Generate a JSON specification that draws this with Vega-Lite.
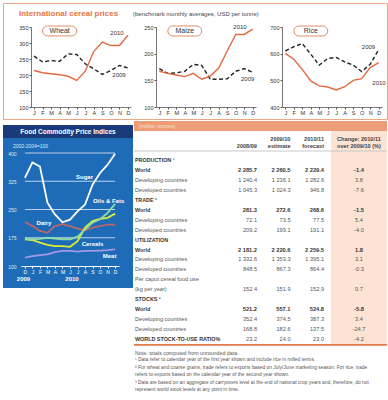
{
"$schema": "https://vega.github.io/schema/vega-lite/v6.json",
"padding": {"left": 2, "top": 2, "right": 0, "bottom": 0},
"background": "white",
"spacing": 0,
"config": {"font": "Liberation Sans", "view": {"stroke": null}, "axis": {"labelOverlap": false, "labelFlush": false, "labelBound": false}, "axisX": {"labelAngle": 0}},
"datasets": {
"cereal": [
{"crop":"Wheat","month":"Jan","y2009":259,"y2010":214},
{"crop":"Wheat","month":"Feb","y2009":241,"y2010":207},
{"crop":"Wheat","month":"Mar","y2009":245,"y2010":204},
{"crop":"Wheat","month":"Apr","y2009":243,"y2010":201},
{"crop":"Wheat","month":"May","y2009":266,"y2010":196},
{"crop":"Wheat","month":"Jun","y2009":264,"y2010":183},
{"crop":"Wheat","month":"Jul","y2009":235,"y2010":212},
{"crop":"Wheat","month":"Aug","y2009":219,"y2010":274},
{"crop":"Wheat","month":"Sep","y2009":202,"y2010":303},
{"crop":"Wheat","month":"Oct","y2009":214,"y2010":292},
{"crop":"Wheat","month":"Nov","y2009":230,"y2010":292},
{"crop":"Wheat","month":"Dec","y2009":222,"y2010":324},
{"crop":"Maize","month":"Jan","y2009":172,"y2010":167},
{"crop":"Maize","month":"Feb","y2009":163,"y2010":163},
{"crop":"Maize","month":"Mar","y2009":164,"y2010":160},
{"crop":"Maize","month":"Apr","y2009":167,"y2010":157},
{"crop":"Maize","month":"May","y2009":180,"y2010":163},
{"crop":"Maize","month":"Jun","y2009":178,"y2010":152},
{"crop":"Maize","month":"Jul","y2009":152,"y2010":158},
{"crop":"Maize","month":"Aug","y2009":152,"y2010":173},
{"crop":"Maize","month":"Sep","y2009":153,"y2010":205},
{"crop":"Maize","month":"Oct","y2009":167,"y2010":236},
{"crop":"Maize","month":"Nov","y2009":172,"y2010":236},
{"crop":"Maize","month":"Dec","y2009":165,"y2010":246},
{"crop":"Rice","month":"Jan","y2009":610,"y2010":601},
{"crop":"Rice","month":"Feb","y2009":626,"y2010":579},
{"crop":"Rice","month":"Mar","y2009":638,"y2010":541},
{"crop":"Rice","month":"Apr","y2009":598,"y2010":498},
{"crop":"Rice","month":"May","y2009":557,"y2010":479},
{"crop":"Rice","month":"Jun","y2009":582,"y2010":475},
{"crop":"Rice","month":"Jul","y2009":586,"y2010":464},
{"crop":"Rice","month":"Aug","y2009":569,"y2010":476},
{"crop":"Rice","month":"Sep","y2009":557,"y2010":500},
{"crop":"Rice","month":"Oct","y2009":533,"y2010":506},
{"crop":"Rice","month":"Nov","y2009":560,"y2010":548},
{"crop":"Rice","month":"Dec","y2009":615,"y2010":566}
],
"food": [
{"month":"Dec09","sugar":334,"dairy":217,"oils":172,"cereals":171,"meat":122},
{"month":"Jan","sugar":375,"dairy":206,"oils":171,"cereals":169,"meat":126},
{"month":"Feb","sugar":364,"dairy":193,"oils":172,"cereals":162,"meat":129},
{"month":"Mar","sugar":268,"dairy":188,"oils":175,"cereals":156,"meat":131},
{"month":"Apr","sugar":237,"dairy":206,"oils":173,"cereals":153,"meat":137},
{"month":"May","sugar":216,"dairy":211,"oils":171,"cereals":153,"meat":140},
{"month":"Jun","sugar":223,"dairy":206,"oils":171,"cereals":151,"meat":140},
{"month":"Jul","sugar":245,"dairy":199,"oils":178,"cereals":166,"meat":138},
{"month":"Aug","sugar":263,"dairy":195,"oils":197,"cereals":202,"meat":140},
{"month":"Sep","sugar":316,"dairy":202,"oils":215,"cereals":219,"meat":140},
{"month":"Oct","sugar":347,"dairy":206,"oils":224,"cereals":225,"meat":141},
{"month":"Nov","sugar":369,"dairy":210,"oils":241,"cereals":228,"meat":142},
{"month":"Dec","sugar":398,"dairy":210,"oils":265,"cereals":239,"meat":144}
],
"table": [
{"key":"P","label":"PRODUCTION ¹","kind":"section"},
{"key":"PW","label":"World","kind":"world","c1":"2 285.7","c2":"2 260.5","c3":"2 229.4","chg":"-1.4"},
{"key":"PDg","label":"Developing countries","kind":"country","c1":"1 240.4","c2":"1 236.1","c3":"1 282.6","chg":"3.8"},
{"key":"PDd","label":"Developed countries","kind":"country","c1":"1 045.3","c2":"1 024.3","c3":"946.8","chg":"-7.6"},
{"key":"T","label":"TRADE ²","kind":"section"},
{"key":"TW","label":"World","kind":"world","c1":"281.3","c2":"272.6","c3":"268.6","chg":"-1.5"},
{"key":"TDg","label":"Developing countries","kind":"country","c1":"72.1","c2":"73.5","c3":"77.5","chg":"5.4"},
{"key":"TDd","label":"Developed countries","kind":"country","c1":"209.2","c2":"199.1","c3":"191.1","chg":"-4.0"},
{"key":"U","label":"UTILIZATION","kind":"section"},
{"key":"UW","label":"World","kind":"world","c1":"2 181.2","c2":"2 220.6","c3":"2 259.5","chg":"1.8"},
{"key":"UDg","label":"Developing countries","kind":"country","c1":"1 332.6","c2":"1 353.3","c3":"1 395.1","chg":"3.1"},
{"key":"UDd","label":"Developed countries","kind":"country","c1":"848.5","c2":"867.3","c3":"864.4","chg":"-0.3"},
{"key":"PC1","label":"Per caput cereal food use","kind":"country"},
{"key":"PC2","label":"(kg per year)","kind":"country","c1":"152.4","c2":"151.9","c3":"152.9","chg":"0.7"},
{"key":"S","label":"STOCKS ³","kind":"section"},
{"key":"SW","label":"World","kind":"world","c1":"521.2","c2":"557.1","c3":"524.8","chg":"-5.8"},
{"key":"SDg","label":"Developing countries","kind":"country","c1":"352.4","c2":"374.5","c3":"387.3","chg":"3.4"},
{"key":"SDd","label":"Developed countries","kind":"country","c1":"168.8","c2":"182.6","c3":"137.5","chg":"-24.7"},
{"key":"R","label":"WORLD STOCK-TO-USE RATIO%","kind":"ratio","c1":"23.2","c2":"24.0","c3":"23.0","chg":"-4.2"}
],
"header": [
{"col":"c1","line":"h2","text":"2008/09"},
{"col":"c2","line":"h1","text":"2009/10"},
{"col":"c2","line":"h2","text":"estimate"},
{"col":"c3","line":"h1","text":"2010/11"},
{"col":"c3","line":"h2","text":"forecast"},
{"col":"chg","line":"h1","text":"Change: 2010/11"},
{"col":"chg","line":"h2","text":"over 2009/10 (%)"}
],
"notes": [
{"line":"n0","text":"Note: totals computed from unrounded data."},
{"line":"n1","text":"¹ Data refer to calendar year of the first year shown and include rice in milled terms."},
{"line":"n2a","text":"² For wheat and coarse grains, trade refers to exports based on July/June marketing season. For rice, trade"},
{"line":"n2b","text":"refers to exports based on the calendar year of the second year shown."},
{"line":"n3a","text":"³ Data are based on an aggregate of carryovers level at the end of national crop years and, therefore, do not"},
{"line":"n3b","text":"represent world stock levels at any point in time."}
]
},
"vconcat": [
{
"width": 384, "height": 116,
"view": {"stroke": "#eca689", "strokeWidth": 1, "fill": "white"},
"resolve": {"scale": {"x": "independent", "y": "independent"}, "axis": {"x": "independent", "y": "independent"}},
"layer": [
{"layer": [
{"data": {"name": "cereal"}, "transform": [{"filter": "datum.crop === 'Wheat'"}],
 "mark": {"type": "line", "color": "#222222", "strokeWidth": 1.4, "strokeDash": [4, 2.5]},
 "encoding": {
  "x": {"field": "month", "type": "ordinal", "scale": {"type": "point", "domain": ["Jan","Feb","Mar","Apr","May","Jun","Jul","Aug","Sep","Oct","Nov","Dec"], "range": [28, 128], "padding": 0.35},
        "axis": {"orient": "bottom", "offset": -12, "title": null, "labelAngle": 0, "labelExpr": "substring(datum.label,0,1)", "domainColor": "#555555", "domainWidth": 0.8, "tickColor": "#555555", "tickSize": 2, "labelFontSize": 5.6, "labelColor": "#333333", "labelPadding": 1, "labelOverlap": false, "grid": false}},
  "y": {"field": "y2009", "type": "quantitative", "scale": {"domain": [100, 350], "range": [104, 24], "nice": false, "zero": false},
        "axis": {"orient": "left", "offset": -28, "values": [100,150,200,250,300,350], "tickCount": 6, "title": null, "domainColor": "#555555", "domainWidth": 0.8, "tickColor": "#555555", "tickSize": 2, "labelFontSize": 5.5, "labelColor": "#333333", "labelPadding": 1, "labelOverlap": false, "grid": false}}}},
{"data": {"name": "cereal"}, "transform": [{"filter": "datum.crop === 'Wheat'"}],
 "mark": {"type": "line", "color": "#e2693f", "strokeWidth": 1.4},
 "encoding": {
  "x": {"field": "month", "type": "ordinal", "scale": {"type": "point", "domain": ["Jan","Feb","Mar","Apr","May","Jun","Jul","Aug","Sep","Oct","Nov","Dec"], "range": [28, 128], "padding": 0.35},
        "axis": {"orient": "bottom", "offset": -12, "title": null, "labelAngle": 0, "labelExpr": "substring(datum.label,0,1)", "domainColor": "#555555", "domainWidth": 0.8, "tickColor": "#555555", "tickSize": 2, "labelFontSize": 5.6, "labelColor": "#333333", "labelPadding": 1, "labelOverlap": false, "grid": false}},
  "y": {"field": "y2010", "type": "quantitative", "scale": {"domain": [100, 350], "range": [104, 24], "nice": false, "zero": false},
        "axis": {"orient": "left", "offset": -28, "values": [100,150,200,250,300,350], "tickCount": 6, "title": null, "domainColor": "#555555", "domainWidth": 0.8, "tickColor": "#555555", "tickSize": 2, "labelFontSize": 5.5, "labelColor": "#333333", "labelPadding": 1, "labelOverlap": false, "grid": false}}}},
{"data": {"values": [{}]},
 "mark": {"type": "rect", "fill": "white", "stroke": "#dc8e6c", "strokeWidth": 1, "cornerRadius": 5},
 "encoding": {
  "x": {"datum": "Feb", "type": "ordinal", "scale": {"type": "point", "domain": ["Jan","Feb","Mar","Apr","May","Jun","Jul","Aug","Sep","Oct","Nov","Dec"], "range": [28, 128], "padding": 0.35},
        "axis": {"orient": "bottom", "offset": -12, "title": null, "labelAngle": 0, "labelExpr": "substring(datum.label,0,1)", "domainColor": "#555555", "domainWidth": 0.8, "tickColor": "#555555", "tickSize": 2, "labelFontSize": 5.6, "labelColor": "#333333", "labelPadding": 1, "labelOverlap": false, "grid": false}},
  "x2": {"datum": "Jun"},
  "y": {"datum": 353, "type": "quantitative", "scale": {"domain": [100, 350], "range": [104, 24], "nice": false, "zero": false},
        "axis": {"orient": "left", "offset": -28, "values": [100,150,200,250,300,350], "tickCount": 6, "title": null, "domainColor": "#555555", "domainWidth": 0.8, "tickColor": "#555555", "tickSize": 2, "labelFontSize": 5.5, "labelColor": "#333333", "labelPadding": 1, "labelOverlap": false, "grid": false}},
  "y2": {"datum": 322}}},
{"data": {"values": [{}]},
 "mark": {"type": "text", "text": "Wheat", "fontSize": 7, "color": "#333333"},
 "encoding": {
  "x": {"datum": "Apr", "type": "ordinal", "scale": {"type": "point", "domain": ["Jan","Feb","Mar","Apr","May","Jun","Jul","Aug","Sep","Oct","Nov","Dec"], "range": [28, 128], "padding": 0.35},
        "axis": {"orient": "bottom", "offset": -12, "title": null, "labelAngle": 0, "labelExpr": "substring(datum.label,0,1)", "domainColor": "#555555", "domainWidth": 0.8, "tickColor": "#555555", "tickSize": 2, "labelFontSize": 5.6, "labelColor": "#333333", "labelPadding": 1, "labelOverlap": false, "grid": false}},
  "y": {"datum": 337.5, "type": "quantitative", "scale": {"domain": [100, 350], "range": [104, 24], "nice": false, "zero": false},
        "axis": {"orient": "left", "offset": -28, "values": [100,150,200,250,300,350], "tickCount": 6, "title": null, "domainColor": "#555555", "domainWidth": 0.8, "tickColor": "#555555", "tickSize": 2, "labelFontSize": 5.5, "labelColor": "#333333", "labelPadding": 1, "labelOverlap": false, "grid": false}}}},
{"data": {"values": [{}]},
 "mark": {"type": "text", "text": "2010", "fontSize": 6, "color": "#333333", "dx": -2.5},
 "encoding": {
  "x": {"datum": "Nov", "type": "ordinal", "scale": {"type": "point", "domain": ["Jan","Feb","Mar","Apr","May","Jun","Jul","Aug","Sep","Oct","Nov","Dec"], "range": [28, 128], "padding": 0.35},
        "axis": {"orient": "bottom", "offset": -12, "title": null, "labelAngle": 0, "labelExpr": "substring(datum.label,0,1)", "domainColor": "#555555", "domainWidth": 0.8, "tickColor": "#555555", "tickSize": 2, "labelFontSize": 5.6, "labelColor": "#333333", "labelPadding": 1, "labelOverlap": false, "grid": false}},
  "y": {"datum": 331, "type": "quantitative", "scale": {"domain": [100, 350], "range": [104, 24], "nice": false, "zero": false},
        "axis": {"orient": "left", "offset": -28, "values": [100,150,200,250,300,350], "tickCount": 6, "title": null, "domainColor": "#555555", "domainWidth": 0.8, "tickColor": "#555555", "tickSize": 2, "labelFontSize": 5.5, "labelColor": "#333333", "labelPadding": 1, "labelOverlap": false, "grid": false}}}},
{"data": {"values": [{}]},
 "mark": {"type": "text", "text": "2009", "fontSize": 6, "color": "#333333", "dx": -0.5},
 "encoding": {
  "x": {"datum": "Nov", "type": "ordinal", "scale": {"type": "point", "domain": ["Jan","Feb","Mar","Apr","May","Jun","Jul","Aug","Sep","Oct","Nov","Dec"], "range": [28, 128], "padding": 0.35},
        "axis": {"orient": "bottom", "offset": -12, "title": null, "labelAngle": 0, "labelExpr": "substring(datum.label,0,1)", "domainColor": "#555555", "domainWidth": 0.8, "tickColor": "#555555", "tickSize": 2, "labelFontSize": 5.6, "labelColor": "#333333", "labelPadding": 1, "labelOverlap": false, "grid": false}},
  "y": {"datum": 200, "type": "quantitative", "scale": {"domain": [100, 350], "range": [104, 24], "nice": false, "zero": false},
        "axis": {"orient": "left", "offset": -28, "values": [100,150,200,250,300,350], "tickCount": 6, "title": null, "domainColor": "#555555", "domainWidth": 0.8, "tickColor": "#555555", "tickSize": 2, "labelFontSize": 5.5, "labelColor": "#333333", "labelPadding": 1, "labelOverlap": false, "grid": false}}}},
{"data": {"values": [{}]},
 "mark": {"type": "text", "text": "International cereal prices", "fontSize": 8, "fontWeight": "bold", "color": "#ea7245", "align": "left", "dx": -15},
 "encoding": {
  "x": {"datum": "Jan", "type": "ordinal", "scale": {"type": "point", "domain": ["Jan","Feb","Mar","Apr","May","Jun","Jul","Aug","Sep","Oct","Nov","Dec"], "range": [28, 128], "padding": 0.35},
        "axis": {"orient": "bottom", "offset": -12, "title": null, "labelAngle": 0, "labelExpr": "substring(datum.label,0,1)", "domainColor": "#555555", "domainWidth": 0.8, "tickColor": "#555555", "tickSize": 2, "labelFontSize": 5.6, "labelColor": "#333333", "labelPadding": 1, "labelOverlap": false, "grid": false}},
  "y": {"datum": 390.6, "type": "quantitative", "scale": {"domain": [100, 350], "range": [104, 24], "nice": false, "zero": false},
        "axis": {"orient": "left", "offset": -28, "values": [100,150,200,250,300,350], "tickCount": 6, "title": null, "domainColor": "#555555", "domainWidth": 0.8, "tickColor": "#555555", "tickSize": 2, "labelFontSize": 5.5, "labelColor": "#333333", "labelPadding": 1, "labelOverlap": false, "grid": false}}}}
]},
{"layer": [
{"data": {"name": "cereal"}, "transform": [{"filter": "datum.crop === 'Maize'"}],
 "mark": {"type": "line", "color": "#222222", "strokeWidth": 1.4, "strokeDash": [4, 2.5]},
 "encoding": {
  "x": {"field": "month", "type": "ordinal", "scale": {"type": "point", "domain": ["Jan","Feb","Mar","Apr","May","Jun","Jul","Aug","Sep","Oct","Nov","Dec"], "range": [153, 253], "padding": 0.39},
        "axis": {"orient": "bottom", "offset": -12, "title": null, "labelAngle": 0, "labelExpr": "substring(datum.label,0,1)", "domainColor": "#555555", "domainWidth": 0.8, "tickColor": "#555555", "tickSize": 2, "labelFontSize": 5.6, "labelColor": "#333333", "labelPadding": 1, "labelOverlap": false, "grid": false}},
  "y": {"field": "y2009", "type": "quantitative", "scale": {"domain": [100, 250], "range": [104, 24], "nice": false, "zero": false},
        "axis": {"orient": "left", "offset": -153, "values": [100,150,200,250], "tickCount": 4, "title": null, "domainColor": "#555555", "domainWidth": 0.8, "tickColor": "#555555", "tickSize": 2, "labelFontSize": 5.5, "labelColor": "#333333", "labelPadding": 1, "labelOverlap": false, "grid": false}}}},
{"data": {"name": "cereal"}, "transform": [{"filter": "datum.crop === 'Maize'"}],
 "mark": {"type": "line", "color": "#e2693f", "strokeWidth": 1.4},
 "encoding": {
  "x": {"field": "month", "type": "ordinal", "scale": {"type": "point", "domain": ["Jan","Feb","Mar","Apr","May","Jun","Jul","Aug","Sep","Oct","Nov","Dec"], "range": [153, 253], "padding": 0.39},
        "axis": {"orient": "bottom", "offset": -12, "title": null, "labelAngle": 0, "labelExpr": "substring(datum.label,0,1)", "domainColor": "#555555", "domainWidth": 0.8, "tickColor": "#555555", "tickSize": 2, "labelFontSize": 5.6, "labelColor": "#333333", "labelPadding": 1, "labelOverlap": false, "grid": false}},
  "y": {"field": "y2010", "type": "quantitative", "scale": {"domain": [100, 250], "range": [104, 24], "nice": false, "zero": false},
        "axis": {"orient": "left", "offset": -153, "values": [100,150,200,250], "tickCount": 4, "title": null, "domainColor": "#555555", "domainWidth": 0.8, "tickColor": "#555555", "tickSize": 2, "labelFontSize": 5.5, "labelColor": "#333333", "labelPadding": 1, "labelOverlap": false, "grid": false}}}},
{"data": {"values": [{}]},
 "mark": {"type": "rect", "fill": "white", "stroke": "#dc8e6c", "strokeWidth": 1, "cornerRadius": 5},
 "encoding": {
  "x": {"datum": "Feb", "type": "ordinal", "scale": {"type": "point", "domain": ["Jan","Feb","Mar","Apr","May","Jun","Jul","Aug","Sep","Oct","Nov","Dec"], "range": [153, 253], "padding": 0.39},
        "axis": {"orient": "bottom", "offset": -12, "title": null, "labelAngle": 0, "labelExpr": "substring(datum.label,0,1)", "domainColor": "#555555", "domainWidth": 0.8, "tickColor": "#555555", "tickSize": 2, "labelFontSize": 5.6, "labelColor": "#333333", "labelPadding": 1, "labelOverlap": false, "grid": false}},
  "x2": {"datum": "Jun"},
  "y": {"datum": 251.9, "type": "quantitative", "scale": {"domain": [100, 250], "range": [104, 24], "nice": false, "zero": false},
        "axis": {"orient": "left", "offset": -153, "values": [100,150,200,250], "tickCount": 4, "title": null, "domainColor": "#555555", "domainWidth": 0.8, "tickColor": "#555555", "tickSize": 2, "labelFontSize": 5.5, "labelColor": "#333333", "labelPadding": 1, "labelOverlap": false, "grid": false}},
  "y2": {"datum": 233.1}}},
{"data": {"values": [{}]},
 "mark": {"type": "text", "text": "Maize", "fontSize": 7, "color": "#333333"},
 "encoding": {
  "x": {"datum": "Apr", "type": "ordinal", "scale": {"type": "point", "domain": ["Jan","Feb","Mar","Apr","May","Jun","Jul","Aug","Sep","Oct","Nov","Dec"], "range": [153, 253], "padding": 0.39},
        "axis": {"orient": "bottom", "offset": -12, "title": null, "labelAngle": 0, "labelExpr": "substring(datum.label,0,1)", "domainColor": "#555555", "domainWidth": 0.8, "tickColor": "#555555", "tickSize": 2, "labelFontSize": 5.6, "labelColor": "#333333", "labelPadding": 1, "labelOverlap": false, "grid": false}},
  "y": {"datum": 242.5, "type": "quantitative", "scale": {"domain": [100, 250], "range": [104, 24], "nice": false, "zero": false},
        "axis": {"orient": "left", "offset": -153, "values": [100,150,200,250], "tickCount": 4, "title": null, "domainColor": "#555555", "domainWidth": 0.8, "tickColor": "#555555", "tickSize": 2, "labelFontSize": 5.5, "labelColor": "#333333", "labelPadding": 1, "labelOverlap": false, "grid": false}}}},
{"data": {"values": [{}]},
 "mark": {"type": "text", "text": "2010", "fontSize": 6, "color": "#333333", "dx": 4.3},
 "encoding": {
  "x": {"datum": "Oct", "type": "ordinal", "scale": {"type": "point", "domain": ["Jan","Feb","Mar","Apr","May","Jun","Jul","Aug","Sep","Oct","Nov","Dec"], "range": [153, 253], "padding": 0.39},
        "axis": {"orient": "bottom", "offset": -12, "title": null, "labelAngle": 0, "labelExpr": "substring(datum.label,0,1)", "domainColor": "#555555", "domainWidth": 0.8, "tickColor": "#555555", "tickSize": 2, "labelFontSize": 5.6, "labelColor": "#333333", "labelPadding": 1, "labelOverlap": false, "grid": false}},
  "y": {"datum": 250, "type": "quantitative", "scale": {"domain": [100, 250], "range": [104, 24], "nice": false, "zero": false},
        "axis": {"orient": "left", "offset": -153, "values": [100,150,200,250], "tickCount": 4, "title": null, "domainColor": "#555555", "domainWidth": 0.8, "tickColor": "#555555", "tickSize": 2, "labelFontSize": 5.5, "labelColor": "#333333", "labelPadding": 1, "labelOverlap": false, "grid": false}}}},
{"data": {"values": [{}]},
 "mark": {"type": "text", "text": "2009", "fontSize": 6, "color": "#333333", "dx": 3.5},
 "encoding": {
  "x": {"datum": "Nov", "type": "ordinal", "scale": {"type": "point", "domain": ["Jan","Feb","Mar","Apr","May","Jun","Jul","Aug","Sep","Oct","Nov","Dec"], "range": [153, 253], "padding": 0.39},
        "axis": {"orient": "bottom", "offset": -12, "title": null, "labelAngle": 0, "labelExpr": "substring(datum.label,0,1)", "domainColor": "#555555", "domainWidth": 0.8, "tickColor": "#555555", "tickSize": 2, "labelFontSize": 5.6, "labelColor": "#333333", "labelPadding": 1, "labelOverlap": false, "grid": false}},
  "y": {"datum": 152.5, "type": "quantitative", "scale": {"domain": [100, 250], "range": [104, 24], "nice": false, "zero": false},
        "axis": {"orient": "left", "offset": -153, "values": [100,150,200,250], "tickCount": 4, "title": null, "domainColor": "#555555", "domainWidth": 0.8, "tickColor": "#555555", "tickSize": 2, "labelFontSize": 5.5, "labelColor": "#333333", "labelPadding": 1, "labelOverlap": false, "grid": false}}}},
{"data": {"values": [{}]},
 "mark": {"type": "text", "text": "(benchmark monthly averages, USD per tonne)", "fontSize": 6, "color": "#444444", "align": "left", "dx": -26.3},
 "encoding": {
  "x": {"datum": "Jan", "type": "ordinal", "scale": {"type": "point", "domain": ["Jan","Feb","Mar","Apr","May","Jun","Jul","Aug","Sep","Oct","Nov","Dec"], "range": [153, 253], "padding": 0.39},
        "axis": {"orient": "bottom", "offset": -12, "title": null, "labelAngle": 0, "labelExpr": "substring(datum.label,0,1)", "domainColor": "#555555", "domainWidth": 0.8, "tickColor": "#555555", "tickSize": 2, "labelFontSize": 5.6, "labelColor": "#333333", "labelPadding": 1, "labelOverlap": false, "grid": false}},
  "y": {"datum": 274.4, "type": "quantitative", "scale": {"domain": [100, 250], "range": [104, 24], "nice": false, "zero": false},
        "axis": {"orient": "left", "offset": -153, "values": [100,150,200,250], "tickCount": 4, "title": null, "domainColor": "#555555", "domainWidth": 0.8, "tickColor": "#555555", "tickSize": 2, "labelFontSize": 5.5, "labelColor": "#333333", "labelPadding": 1, "labelOverlap": false, "grid": false}}}}
]},
{"layer": [
{"data": {"name": "cereal"}, "transform": [{"filter": "datum.crop === 'Rice'"}],
 "mark": {"type": "line", "color": "#222222", "strokeWidth": 1.4, "strokeDash": [4, 2.5]},
 "encoding": {
  "x": {"field": "month", "type": "ordinal", "scale": {"type": "point", "domain": ["Jan","Feb","Mar","Apr","May","Jun","Jul","Aug","Sep","Oct","Nov","Dec"], "range": [279, 379], "padding": 0.39},
        "axis": {"orient": "bottom", "offset": -12, "title": null, "labelAngle": 0, "labelExpr": "substring(datum.label,0,1)", "domainColor": "#555555", "domainWidth": 0.8, "tickColor": "#555555", "tickSize": 2, "labelFontSize": 5.6, "labelColor": "#333333", "labelPadding": 1, "labelOverlap": false, "grid": false}},
  "y": {"field": "y2009", "type": "quantitative", "scale": {"domain": [400, 700], "range": [104, 24], "nice": false, "zero": false},
        "axis": {"orient": "left", "offset": -279, "values": [400,500,600,700], "tickCount": 4, "title": null, "domainColor": "#555555", "domainWidth": 0.8, "tickColor": "#555555", "tickSize": 2, "labelFontSize": 5.5, "labelColor": "#333333", "labelPadding": 1, "labelOverlap": false, "grid": false}}}},
{"data": {"name": "cereal"}, "transform": [{"filter": "datum.crop === 'Rice'"}],
 "mark": {"type": "line", "color": "#e2693f", "strokeWidth": 1.4},
 "encoding": {
  "x": {"field": "month", "type": "ordinal", "scale": {"type": "point", "domain": ["Jan","Feb","Mar","Apr","May","Jun","Jul","Aug","Sep","Oct","Nov","Dec"], "range": [279, 379], "padding": 0.39},
        "axis": {"orient": "bottom", "offset": -12, "title": null, "labelAngle": 0, "labelExpr": "substring(datum.label,0,1)", "domainColor": "#555555", "domainWidth": 0.8, "tickColor": "#555555", "tickSize": 2, "labelFontSize": 5.6, "labelColor": "#333333", "labelPadding": 1, "labelOverlap": false, "grid": false}},
  "y": {"field": "y2010", "type": "quantitative", "scale": {"domain": [400, 700], "range": [104, 24], "nice": false, "zero": false},
        "axis": {"orient": "left", "offset": -279, "values": [400,500,600,700], "tickCount": 4, "title": null, "domainColor": "#555555", "domainWidth": 0.8, "tickColor": "#555555", "tickSize": 2, "labelFontSize": 5.5, "labelColor": "#333333", "labelPadding": 1, "labelOverlap": false, "grid": false}}}},
{"data": {"values": [{}]},
 "mark": {"type": "rect", "fill": "white", "stroke": "#dc8e6c", "strokeWidth": 1, "cornerRadius": 5},
 "encoding": {
  "x": {"datum": "Feb", "type": "ordinal", "scale": {"type": "point", "domain": ["Jan","Feb","Mar","Apr","May","Jun","Jul","Aug","Sep","Oct","Nov","Dec"], "range": [279, 379], "padding": 0.39},
        "axis": {"orient": "bottom", "offset": -12, "title": null, "labelAngle": 0, "labelExpr": "substring(datum.label,0,1)", "domainColor": "#555555", "domainWidth": 0.8, "tickColor": "#555555", "tickSize": 2, "labelFontSize": 5.6, "labelColor": "#333333", "labelPadding": 1, "labelOverlap": false, "grid": false}},
  "x2": {"datum": "Jun"},
  "y": {"datum": 703.75, "type": "quantitative", "scale": {"domain": [400, 700], "range": [104, 24], "nice": false, "zero": false},
        "axis": {"orient": "left", "offset": -279, "values": [400,500,600,700], "tickCount": 4, "title": null, "domainColor": "#555555", "domainWidth": 0.8, "tickColor": "#555555", "tickSize": 2, "labelFontSize": 5.5, "labelColor": "#333333", "labelPadding": 1, "labelOverlap": false, "grid": false}},
  "y2": {"datum": 666.25}}},
{"data": {"values": [{}]},
 "mark": {"type": "text", "text": "Rice", "fontSize": 7, "color": "#333333"},
 "encoding": {
  "x": {"datum": "Apr", "type": "ordinal", "scale": {"type": "point", "domain": ["Jan","Feb","Mar","Apr","May","Jun","Jul","Aug","Sep","Oct","Nov","Dec"], "range": [279, 379], "padding": 0.39},
        "axis": {"orient": "bottom", "offset": -12, "title": null, "labelAngle": 0, "labelExpr": "substring(datum.label,0,1)", "domainColor": "#555555", "domainWidth": 0.8, "tickColor": "#555555", "tickSize": 2, "labelFontSize": 5.6, "labelColor": "#333333", "labelPadding": 1, "labelOverlap": false, "grid": false}},
  "y": {"datum": 685, "type": "quantitative", "scale": {"domain": [400, 700], "range": [104, 24], "nice": false, "zero": false},
        "axis": {"orient": "left", "offset": -279, "values": [400,500,600,700], "tickCount": 4, "title": null, "domainColor": "#555555", "domainWidth": 0.8, "tickColor": "#555555", "tickSize": 2, "labelFontSize": 5.5, "labelColor": "#333333", "labelPadding": 1, "labelOverlap": false, "grid": false}}}},
{"data": {"values": [{}]},
 "mark": {"type": "text", "text": "2009", "fontSize": 6, "color": "#333333", "dx": -1.7},
 "encoding": {
  "x": {"datum": "Nov", "type": "ordinal", "scale": {"type": "point", "domain": ["Jan","Feb","Mar","Apr","May","Jun","Jul","Aug","Sep","Oct","Nov","Dec"], "range": [279, 379], "padding": 0.39},
        "axis": {"orient": "bottom", "offset": -12, "title": null, "labelAngle": 0, "labelExpr": "substring(datum.label,0,1)", "domainColor": "#555555", "domainWidth": 0.8, "tickColor": "#555555", "tickSize": 2, "labelFontSize": 5.6, "labelColor": "#333333", "labelPadding": 1, "labelOverlap": false, "grid": false}},
  "y": {"datum": 625, "type": "quantitative", "scale": {"domain": [400, 700], "range": [104, 24], "nice": false, "zero": false},
        "axis": {"orient": "left", "offset": -279, "values": [400,500,600,700], "tickCount": 4, "title": null, "domainColor": "#555555", "domainWidth": 0.8, "tickColor": "#555555", "tickSize": 2, "labelFontSize": 5.5, "labelColor": "#333333", "labelPadding": 1, "labelOverlap": false, "grid": false}}}},
{"data": {"values": [{}]},
 "mark": {"type": "text", "text": "2010", "fontSize": 6, "color": "#333333", "dx": 0.3},
 "encoding": {
  "x": {"datum": "Dec", "type": "ordinal", "scale": {"type": "point", "domain": ["Jan","Feb","Mar","Apr","May","Jun","Jul","Aug","Sep","Oct","Nov","Dec"], "range": [279, 379], "padding": 0.39},
        "axis": {"orient": "bottom", "offset": -12, "title": null, "labelAngle": 0, "labelExpr": "substring(datum.label,0,1)", "domainColor": "#555555", "domainWidth": 0.8, "tickColor": "#555555", "tickSize": 2, "labelFontSize": 5.6, "labelColor": "#333333", "labelPadding": 1, "labelOverlap": false, "grid": false}},
  "y": {"datum": 491, "type": "quantitative", "scale": {"domain": [400, 700], "range": [104, 24], "nice": false, "zero": false},
        "axis": {"orient": "left", "offset": -279, "values": [400,500,600,700], "tickCount": 4, "title": null, "domainColor": "#555555", "domainWidth": 0.8, "tickColor": "#555555", "tickSize": 2, "labelFontSize": 5.5, "labelColor": "#333333", "labelPadding": 1, "labelOverlap": false, "grid": false}}}}
]}
]
},
{
"spacing": 1,
"hconcat": [
{
"width": 130, "height": 167,
"view": {"fill": "#1e6cb7", "stroke": null},
"layer": [
{"data": {"values": [{}]}, "mark": {"type": "rect", "color": "white"},
 "encoding": {"y": {"datum": 486, "type": "quantitative", "scale": {"domain": [100, 400], "range": [145, 32], "nice": false, "zero": false}}, "y2": {"datum": 474.3}}},
{"data": {"values": [{}]}, "mark": {"type": "rect", "color": "#1b3a7a"},
 "encoding": {"y": {"datum": 474.3, "type": "quantitative", "scale": {"domain": [100, 400], "range": [145, 32], "nice": false, "zero": false}}, "y2": {"datum": 439.8}}},
{"data": {"values": [{"g": 175}, {"g": 250}, {"g": 325}, {"g": 400}]},
 "mark": {"type": "rule", "color": "white", "strokeWidth": 0.7},
 "encoding": {
  "x": {"datum": "Dec09", "type": "ordinal", "scale": {"type": "point", "domain": ["Dec09","Jan","Feb","Mar","Apr","May","Jun","Jul","Aug","Sep","Oct","Nov","Dec"], "range": [18, 116], "padding": 0.52}},
  "x2": {"datum": "Dec"},
  "y": {"field": "g", "type": "quantitative", "scale": {"domain": [100, 400], "range": [145, 32], "nice": false, "zero": false}}}},
{"data": {"name": "food"}, "transform": [{"fold": ["meat", "dairy", "cereals", "oils", "sugar"], "as": ["series", "index"]}],
 "mark": {"type": "line", "strokeWidth": 1.8},
 "encoding": {
  "x": {"field": "month", "type": "ordinal", "scale": {"type": "point", "domain": ["Dec09","Jan","Feb","Mar","Apr","May","Jun","Jul","Aug","Sep","Oct","Nov","Dec"], "range": [18, 116], "padding": 0.52},
        "axis": {"orient": "bottom", "offset": -22, "title": null, "labelAngle": 0, "labelExpr": "substring(datum.label,0,1)", "domainColor": "white", "domainWidth": 1, "tickColor": "white", "tickSize": 2, "labelColor": "white", "labelFontSize": 5, "labelPadding": 1, "labelOverlap": false, "grid": false}},
  "y": {"field": "index", "type": "quantitative", "scale": {"domain": [100, 400], "range": [145, 32], "nice": false, "zero": false},
        "axis": {"orient": "left", "offset": -15, "values": [100, 175, 250, 325, 400], "title": null, "domain": false, "ticks": false, "labelColor": "#dce8f7", "labelFontSize": 5, "labelPadding": 2, "labelOverlap": false, "grid": false}},
  "color": {"field": "series", "type": "nominal", "scale": {"domain": ["meat", "dairy", "cereals", "oils", "sugar"], "range": ["#a597e3", "#b9686b", "#dcec30", "#8fdca5", "#ffffff"]}, "legend": null}}},
{"data": {"values": [{}]}, "mark": {"type": "text", "text": "Food Commodity Price Indices", "fontSize": 6.5, "fontWeight": "bold", "color": "white"},
 "encoding": {"y": {"datum": 455.8, "type": "quantitative", "scale": {"domain": [100, 400], "range": [145, 32], "nice": false, "zero": false}}}},
{"data": {"values": [{}]}, "mark": {"type": "text", "text": "2002-2004=100", "fontSize": 5, "color": "#dce8f7", "align": "left", "dx": -12},
 "encoding": {
  "x": {"datum": "Dec09", "type": "ordinal", "scale": {"type": "point", "domain": ["Dec09","Jan","Feb","Mar","Apr","May","Jun","Jul","Aug","Sep","Oct","Nov","Dec"], "range": [18, 116], "padding": 0.52}},
  "y": {"datum": 418.6, "type": "quantitative", "scale": {"domain": [100, 400], "range": [145, 32], "nice": false, "zero": false}}}},
{"data": {"values": [{}]}, "mark": {"type": "text", "text": "Sugar", "fontSize": 6, "fontWeight": "bold", "color": "white", "dx": -0.5},
 "encoding": {
  "x": {"datum": "Aug", "type": "ordinal", "scale": {"type": "point", "domain": ["Dec09","Jan","Feb","Mar","Apr","May","Jun","Jul","Aug","Sep","Oct","Nov","Dec"], "range": [18, 116], "padding": 0.52}},
  "y": {"datum": 336, "type": "quantitative", "scale": {"domain": [100, 400], "range": [145, 32], "nice": false, "zero": false}}}},
{"data": {"values": [{}]}, "mark": {"type": "text", "text": "Oils & Fats", "fontSize": 6, "fontWeight": "bold", "color": "white", "dx": 1},
 "encoding": {
  "x": {"datum": "Nov", "type": "ordinal", "scale": {"type": "point", "domain": ["Dec09","Jan","Feb","Mar","Apr","May","Jun","Jul","Aug","Sep","Oct","Nov","Dec"], "range": [18, 116], "padding": 0.52}},
  "y": {"datum": 273, "type": "quantitative", "scale": {"domain": [100, 400], "range": [145, 32], "nice": false, "zero": false}}}},
{"data": {"values": [{}]}, "mark": {"type": "text", "text": "Dairy", "fontSize": 6, "fontWeight": "bold", "color": "white", "dx": 4},
 "encoding": {
  "x": {"datum": "Feb", "type": "ordinal", "scale": {"type": "point", "domain": ["Dec09","Jan","Feb","Mar","Apr","May","Jun","Jul","Aug","Sep","Oct","Nov","Dec"], "range": [18, 116], "padding": 0.52}},
  "y": {"datum": 214, "type": "quantitative", "scale": {"domain": [100, 400], "range": [145, 32], "nice": false, "zero": false}}}},
{"data": {"values": [{}]}, "mark": {"type": "text", "text": "Cereals", "fontSize": 6, "fontWeight": "bold", "color": "white"},
 "encoding": {
  "x": {"datum": "Sep", "type": "ordinal", "scale": {"type": "point", "domain": ["Dec09","Jan","Feb","Mar","Apr","May","Jun","Jul","Aug","Sep","Oct","Nov","Dec"], "range": [18, 116], "padding": 0.52}},
  "y": {"datum": 159, "type": "quantitative", "scale": {"domain": [100, 400], "range": [145, 32], "nice": false, "zero": false}}}},
{"data": {"values": [{}]}, "mark": {"type": "text", "text": "Meat", "fontSize": 6, "fontWeight": "bold", "color": "white", "dx": 2},
 "encoding": {
  "x": {"datum": "Nov", "type": "ordinal", "scale": {"type": "point", "domain": ["Dec09","Jan","Feb","Mar","Apr","May","Jun","Jul","Aug","Sep","Oct","Nov","Dec"], "range": [18, 116], "padding": 0.52}},
  "y": {"datum": 126, "type": "quantitative", "scale": {"domain": [100, 400], "range": [145, 32], "nice": false, "zero": false}}}},
{"data": {"values": [{}]}, "mark": {"type": "text", "text": "2009", "fontSize": 6, "fontWeight": "bold", "color": "white", "dx": -1.4},
 "encoding": {
  "x": {"datum": "Dec09", "type": "ordinal", "scale": {"type": "point", "domain": ["Dec09","Jan","Feb","Mar","Apr","May","Jun","Jul","Aug","Sep","Oct","Nov","Dec"], "range": [18, 116], "padding": 0.52}},
  "y": {"datum": 65.5, "type": "quantitative", "scale": {"domain": [100, 400], "range": [145, 32], "nice": false, "zero": false}}}},
{"data": {"values": [{}]}, "mark": {"type": "text", "text": "2010", "fontSize": 6, "fontWeight": "bold", "color": "white", "dx": 2},
 "encoding": {
  "x": {"datum": "Jun", "type": "ordinal", "scale": {"type": "point", "domain": ["Dec09","Jan","Feb","Mar","Apr","May","Jun","Jul","Aug","Sep","Oct","Nov","Dec"], "range": [18, 116], "padding": 0.52}},
  "y": {"datum": 65.5, "type": "quantitative", "scale": {"domain": [100, 400], "range": [145, 32], "nice": false, "zero": false}}}}
]
},
{
"width": 253, "height": 277,
"resolve": {"scale": {"x": "independent", "y": "independent"}},
"layer": [
{"data": {"values": [{}]}, "mark": {"type": "rect", "color": "#ec9c76"},
 "encoding": {"y": {"datum": "bar", "type": "nominal", "scale": {"type": "band", "domain": ["bar"], "range": [0, 10], "paddingInner": 0, "paddingOuter": 0}, "axis": null}}},
{"data": {"values": [{}]}, "mark": {"type": "rect", "color": "#fde3d3"},
 "encoding": {
  "x": {"datum": "chg", "type": "nominal", "scale": {"type": "band", "domain": ["chg"], "range": [197, 253], "paddingInner": 0, "paddingOuter": 0}, "axis": null},
  "y": {"datum": "col", "type": "nominal", "scale": {"type": "band", "domain": ["col"], "range": [10, 224], "paddingInner": 0, "paddingOuter": 0}, "axis": null}}},
{"data": {"values": [{}]}, "mark": {"type": "rect", "color": "#c8c8c8"},
 "encoding": {"y": {"datum": "sep", "type": "nominal", "scale": {"type": "band", "domain": ["sep"], "range": [29.6, 30.4], "paddingInner": 0, "paddingOuter": 0}, "axis": null}}},
{"data": {"values": [{}]}, "mark": {"type": "rect", "color": "#e27a4c"},
 "encoding": {"y": {"datum": "end", "type": "nominal", "scale": {"type": "band", "domain": ["end"], "range": [223, 224.8], "paddingInner": 0, "paddingOuter": 0}, "axis": null}}},
{"data": {"values": [{}]}, "mark": {"type": "text", "text": "(million tonnes)", "align": "left", "fontSize": 5.3, "color": "#fbe2d4"},
 "encoding": {
  "x": {"datum": "lbl", "type": "nominal", "scale": {"type": "point", "domain": ["lbl"], "range": [5, 5], "padding": 0}, "axis": null},
  "y": {"datum": "bar", "type": "nominal", "scale": {"type": "point", "domain": ["bar"], "range": [5, 5], "padding": 0}, "axis": null}}},
{"data": {"name": "header"}, "transform": [{"filter": "datum.col !== 'chg'"}],
 "mark": {"type": "text", "align": "right", "fontWeight": "bold", "fontSize": 5.6, "color": "#444444"},
 "encoding": {
  "x": {"field": "col", "type": "nominal", "scale": {"type": "point", "domain": ["c1", "c2", "c3"], "range": [123, 190], "padding": 0}, "axis": null},
  "y": {"field": "line", "type": "nominal", "scale": {"type": "point", "domain": ["h1", "h2"], "range": [18, 25], "padding": 0}, "axis": null},
  "text": {"field": "text"}}},
{"data": {"name": "header"}, "transform": [{"filter": "datum.col === 'chg'"}],
 "mark": {"type": "text", "align": "center", "fontWeight": "bold", "fontSize": 5.6, "color": "#444444"},
 "encoding": {
  "x": {"field": "col", "type": "nominal", "scale": {"type": "point", "domain": ["chg"], "range": [225, 225], "padding": 0}, "axis": null},
  "y": {"field": "line", "type": "nominal", "scale": {"type": "point", "domain": ["h1", "h2"], "range": [18, 25], "padding": 0}, "axis": null},
  "text": {"field": "text"}}},
{"data": {"name": "table"}, "transform": [{"filter": "datum.kind !== 'country'"}],
 "mark": {"type": "text", "align": "left", "fontWeight": "bold", "fontSize": 5.4, "color": "#333333"},
 "encoding": {
  "x": {"datum": "lbl", "type": "nominal", "scale": {"type": "point", "domain": ["lbl"], "range": [1, 1], "padding": 0}, "axis": null},
  "y": {"field": "key", "type": "nominal", "scale": {"type": "point", "domain": ["P","PW","PDg","PDd","T","TW","TDg","TDd","U","UW","UDg","UDd","PC1","PC2","S","SW","SDg","SDd","R"], "range": [39, 218], "padding": 0}, "axis": null},
  "text": {"field": "label"}}},
{"data": {"name": "table"}, "transform": [{"filter": "datum.kind === 'country'"}],
 "mark": {"type": "text", "align": "left", "fontSize": 5.6, "color": "#555555"},
 "encoding": {
  "x": {"datum": "lbl", "type": "nominal", "scale": {"type": "point", "domain": ["lbl"], "range": [1, 1], "padding": 0}, "axis": null},
  "y": {"field": "key", "type": "nominal", "scale": {"type": "point", "domain": ["P","PW","PDg","PDd","T","TW","TDg","TDd","U","UW","UDg","UDd","PC1","PC2","S","SW","SDg","SDd","R"], "range": [39, 218], "padding": 0}, "axis": null},
  "text": {"field": "label"}}},
{"data": {"name": "table"}, "transform": [{"filter": "datum.kind === 'world'"}, {"fold": ["c1", "c2", "c3"], "as": ["col", "num"]}],
 "mark": {"type": "text", "align": "right", "fontWeight": "bold", "fontSize": 5.7, "color": "#333333"},
 "encoding": {
  "x": {"field": "col", "type": "nominal", "scale": {"type": "point", "domain": ["c1", "c2", "c3"], "range": [123, 190], "padding": 0}, "axis": null},
  "y": {"field": "key", "type": "nominal", "scale": {"type": "point", "domain": ["P","PW","PDg","PDd","T","TW","TDg","TDd","U","UW","UDg","UDd","PC1","PC2","S","SW","SDg","SDd","R"], "range": [39, 218], "padding": 0}, "axis": null},
  "text": {"field": "num"}}},
{"data": {"name": "table"}, "transform": [{"filter": "datum.kind !== 'world' && isValid(datum.c1)"}, {"fold": ["c1", "c2", "c3"], "as": ["col", "num"]}],
 "mark": {"type": "text", "align": "right", "fontSize": 5.6, "color": "#555555"},
 "encoding": {
  "x": {"field": "col", "type": "nominal", "scale": {"type": "point", "domain": ["c1", "c2", "c3"], "range": [123, 190], "padding": 0}, "axis": null},
  "y": {"field": "key", "type": "nominal", "scale": {"type": "point", "domain": ["P","PW","PDg","PDd","T","TW","TDg","TDd","U","UW","UDg","UDd","PC1","PC2","S","SW","SDg","SDd","R"], "range": [39, 218], "padding": 0}, "axis": null},
  "text": {"field": "num"}}},
{"data": {"name": "table"}, "transform": [{"filter": "datum.kind === 'world'"}],
 "mark": {"type": "text", "align": "center", "fontWeight": "bold", "fontSize": 5.7, "color": "#333333"},
 "encoding": {
  "x": {"datum": "chg", "type": "nominal", "scale": {"type": "point", "domain": ["chg"], "range": [225, 225], "padding": 0}, "axis": null},
  "y": {"field": "key", "type": "nominal", "scale": {"type": "point", "domain": ["P","PW","PDg","PDd","T","TW","TDg","TDd","U","UW","UDg","UDd","PC1","PC2","S","SW","SDg","SDd","R"], "range": [39, 218], "padding": 0}, "axis": null},
  "text": {"field": "chg"}}},
{"data": {"name": "table"}, "transform": [{"filter": "datum.kind !== 'world' && isValid(datum.chg)"}],
 "mark": {"type": "text", "align": "center", "fontSize": 5.6, "color": "#555555"},
 "encoding": {
  "x": {"datum": "chg", "type": "nominal", "scale": {"type": "point", "domain": ["chg"], "range": [225, 225], "padding": 0}, "axis": null},
  "y": {"field": "key", "type": "nominal", "scale": {"type": "point", "domain": ["P","PW","PDg","PDd","T","TW","TDg","TDd","U","UW","UDg","UDd","PC1","PC2","S","SW","SDg","SDd","R"], "range": [39, 218], "padding": 0}, "axis": null},
  "text": {"field": "chg"}}},
{"data": {"name": "notes"}, "transform": [{"filter": "datum.line === 'n0'"}],
 "mark": {"type": "text", "align": "left", "fontSize": 5.3, "color": "#555555"},
 "encoding": {
  "x": {"datum": "lbl", "type": "nominal", "scale": {"type": "point", "domain": ["lbl"], "range": [1, 1], "padding": 0}, "axis": null},
  "y": {"field": "line", "type": "nominal", "scale": {"type": "point", "domain": ["n0", "n1", "n2a", "n2b", "n3a", "n3b"], "range": [232, 269], "padding": 0}, "axis": null},
  "text": {"field": "text"}}},
{"data": {"name": "notes"}, "transform": [{"filter": "datum.line !== 'n0'"}],
 "mark": {"type": "text", "align": "left", "fontSize": 4.9, "color": "#555555"},
 "encoding": {
  "x": {"datum": "lbl", "type": "nominal", "scale": {"type": "point", "domain": ["lbl"], "range": [1, 1], "padding": 0}, "axis": null},
  "y": {"field": "line", "type": "nominal", "scale": {"type": "point", "domain": ["n0", "n1", "n2a", "n2b", "n3a", "n3b"], "range": [232, 269], "padding": 0}, "axis": null},
  "text": {"field": "text"}}}
]
}
]
}
]
}
